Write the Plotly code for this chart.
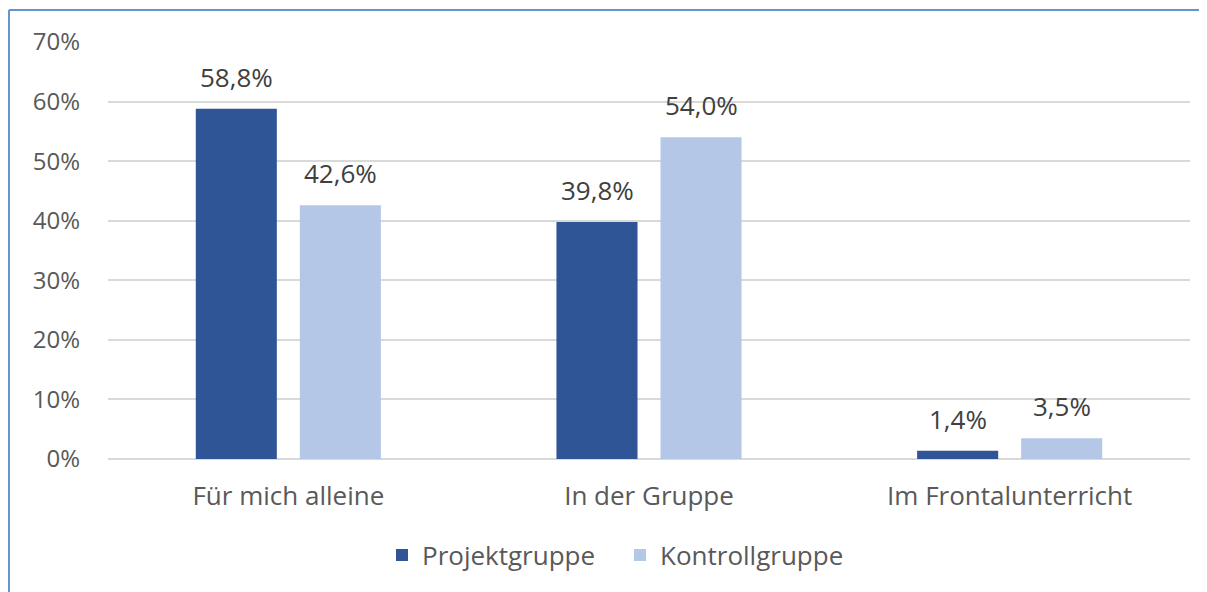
import plotly.graph_objects as go

categories = ["Für mich alleine", "In der Gruppe", "Im Frontalunterricht"]
projekt = [58.8, 39.8, 1.4]
kontroll = [42.6, 54.0, 3.5]
series_names = ["Projektgruppe", "Kontrollgruppe"]
y_ticks = [0, 10, 20, 30, 40, 50, 60, 70]
y_ticklabels = [f"{v}%" for v in y_ticks]

# page has an 8px body margin; work in page pixel coords and convert
OFF = 8
W, H = 1207 - OFF, 592 - OFF
L, R, T, B = 108 - OFF, 1190 - OFF, 42 - OFF, 459 - OFF


def fmt(v):
    return f"{v:.1f}".replace(".", ",") + "%"


FONT = "Open Sans"
GREY = "#595959"
colors = ["#2F5597", "#B4C7E7"]
shifts = [-52, 52]

fig = go.Figure()
annotations = []
for name, vals, col, sh in zip(series_names, [projekt, kontroll], colors, shifts):
    fig.add_trace(go.Bar(
        x=categories, y=vals, name=name, marker=dict(color=col, line=dict(width=0)),
    ))
    for c, v in zip(categories, vals):
        annotations.append(dict(
            x=c, y=v, xref="x", yref="y", text=fmt(v), showarrow=False,
            xanchor="center", yanchor="bottom", xshift=sh, yshift=12,
            font=dict(size=26, color="#404040", family=FONT),
        ))

px2x = lambda p: (p - OFF - L) / (R - L)
px2y = lambda p: (B - (p - OFF)) / (B - T)

fig.update_layout(
    width=W, height=H,
    margin=dict(l=L, r=W - R, t=T, b=H - B, pad=0),
    paper_bgcolor="white", plot_bgcolor="white",
    barmode="group", bargap=0.423, bargroupgap=0.221,
    font=dict(family=FONT, color=GREY, size=24),
    showlegend=True,
    legend=dict(orientation="h", x=px2x(382), xanchor="left", y=px2y(555), yanchor="middle",
                font=dict(size=26, color=GREY), itemwidth=30, traceorder="normal",
                entrywidth=193, entrywidthmode="pixels",
                bgcolor="rgba(0,0,0,0)"),
    xaxis=dict(showgrid=False, showline=False, zeroline=False, ticks="",
               tickfont=dict(size=26, color=GREY), ticklabelstandoff=19),
    yaxis=dict(range=[0, 70], tickvals=y_ticks, ticktext=y_ticklabels,
               showgrid=True, gridcolor="#D9D9D9", gridwidth=2,
               zeroline=True, zerolinecolor="#D9D9D9", zerolinewidth=2,
               showline=False, ticks="", tickfont=dict(size=24, color=GREY),
               ticklabelstandoff=27),
    annotations=annotations,
    shapes=[
        dict(type="line", xref="paper", yref="paper", x0=px2x(9), x1=px2x(1220), y0=px2y(10), y1=px2y(10),
             line=dict(color="#6495D2", width=2)),
        dict(type="line", xref="paper", yref="paper", x0=px2x(9), x1=px2x(9), y0=px2y(10), y1=px2y(600),
             line=dict(color="#6495D2", width=2)),
    ],
)

fig.write_html("out.html")
